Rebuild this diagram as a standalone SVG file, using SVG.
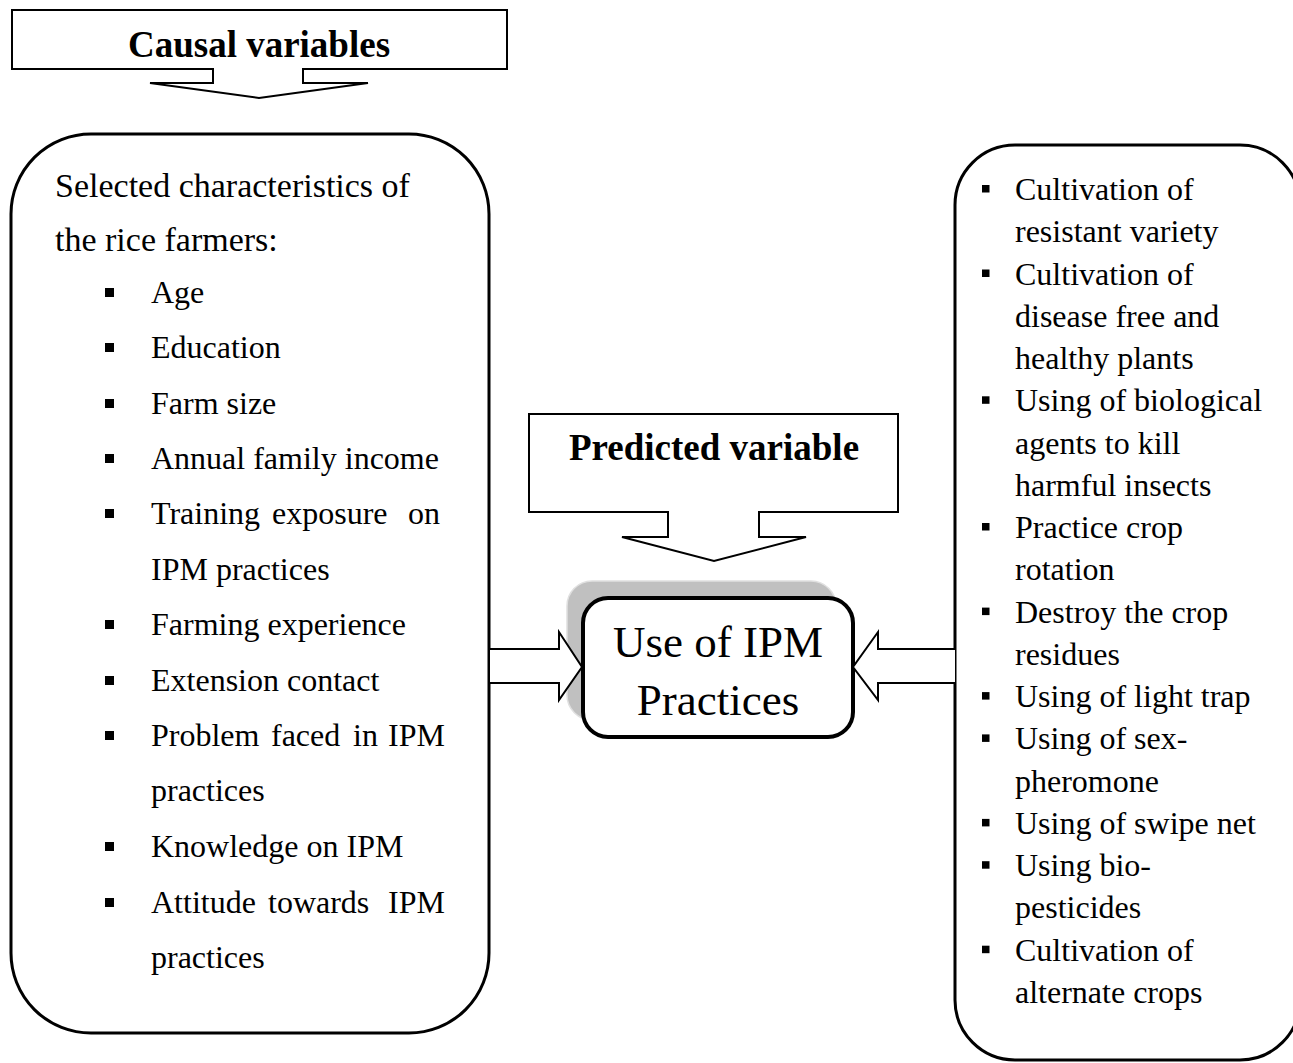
<svg xmlns="http://www.w3.org/2000/svg" width="1293" height="1063" viewBox="0 0 1293 1063">
<style>
text{font-family:"Liberation Serif","Times New Roman",serif;fill:#000}
.b{font-weight:bold;font-size:37px}
.h{font-size:34px}
.t{font-size:32px}
.c{font-size:45px}
.box{fill:#fff;stroke:#000;stroke-width:3}
.call{fill:#fff;stroke:#000;stroke-width:2}
.arr{fill:#fff;stroke:#000;stroke-width:2;stroke-linejoin:miter}
</style>
<rect width="1293" height="1063" fill="#fff"/>
<g id="causal-callout">
<path class="call" d="M12,10 H507 V69 H303 V83 H368 L259,98 L150,83 H213 V69 H12 Z"/>
<text class="b" x="259" y="57" text-anchor="middle">Causal variables</text>
</g>
<g id="predicted-callout">
<path class="call" d="M529,414 H898 V512 H759 V537 H806 L714,561 L622,537 H668 V512 H529 Z"/>
<text class="b" x="714" y="460" text-anchor="middle">Predicted variable</text>
</g>
<g id="causal-box">
<rect class="box" x="11" y="134" width="478" height="899" rx="80" ry="80"/>
<text class="h" x="55" y="197">Selected characteristics of</text>
<text class="h" x="55" y="251">the rice farmers:</text>
<g fill="#000">
<rect x="105" y="288" width="9" height="9"/>
<rect x="105" y="343" width="9" height="9"/>
<rect x="105" y="399" width="9" height="9"/>
<rect x="105" y="454" width="9" height="9"/>
<rect x="105" y="509" width="9" height="9"/>
<rect x="105" y="620" width="9" height="9"/>
<rect x="105" y="676" width="9" height="9"/>
<rect x="105" y="731" width="9" height="9"/>
<rect x="105" y="842" width="9" height="9"/>
<rect x="105" y="898" width="9" height="9"/>
</g>
<text class="t" x="151" y="303">Age</text>
<text class="t" x="151" y="358">Education</text>
<text class="t" x="151" y="414">Farm size</text>
<text class="t" x="151" y="469">Annual family income</text>
<text class="t" y="524"><tspan x="151">Training</tspan><tspan x="272">exposure</tspan><tspan x="408">on</tspan></text>
<text class="t" x="151" y="580">IPM practices</text>
<text class="t" x="151" y="635">Farming experience</text>
<text class="t" x="151" y="691">Extension contact</text>
<text class="t" y="746"><tspan x="151">Problem</tspan><tspan x="271">faced</tspan><tspan x="353">in</tspan><tspan x="388">IPM</tspan></text>
<text class="t" x="151" y="801">practices</text>
<text class="t" x="151" y="857">Knowledge on IPM</text>
<text class="t" y="913"><tspan x="151">Attitude</tspan><tspan x="268">towards</tspan><tspan x="388">IPM</tspan></text>
<text class="t" x="151" y="968">practices</text>
</g>
<g id="practices-box">
<rect class="box" x="955" y="145" width="345" height="915" rx="60" ry="60"/>
<g fill="#000">
<rect x="982" y="185" width="7.5" height="7.5"/>
<rect x="982" y="269.5" width="7.5" height="7.5"/>
<rect x="982" y="396.3" width="7.5" height="7.5"/>
<rect x="982" y="523" width="7.5" height="7.5"/>
<rect x="982" y="607.6" width="7.5" height="7.5"/>
<rect x="982" y="692.1" width="7.5" height="7.5"/>
<rect x="982" y="734.4" width="7.5" height="7.5"/>
<rect x="982" y="818.9" width="7.5" height="7.5"/>
<rect x="982" y="861.2" width="7.5" height="7.5"/>
<rect x="982" y="945.7" width="7.5" height="7.5"/>
</g>
<text class="t" x="1015" y="200">Cultivation of</text>
<text class="t" x="1015" y="242.3">resistant variety</text>
<text class="t" x="1015" y="284.5">Cultivation of</text>
<text class="t" x="1015" y="326.8">disease free and</text>
<text class="t" x="1015" y="369">healthy plants</text>
<text class="t" x="1015" y="411.3">Using of biological</text>
<text class="t" x="1015" y="453.6">agents to kill</text>
<text class="t" x="1015" y="495.8">harmful insects</text>
<text class="t" x="1015" y="538">Practice crop</text>
<text class="t" x="1015" y="580.3">rotation</text>
<text class="t" x="1015" y="622.6">Destroy the crop</text>
<text class="t" x="1015" y="664.9">residues</text>
<text class="t" x="1015" y="707.1">Using of light trap</text>
<text class="t" x="1015" y="749.4">Using of sex-</text>
<text class="t" x="1015" y="791.6">pheromone</text>
<text class="t" x="1015" y="833.9">Using of swipe net</text>
<text class="t" x="1015" y="876.2">Using bio-</text>
<text class="t" x="1015" y="918.4">pesticides</text>
<text class="t" x="1015" y="960.7">Cultivation of</text>
<text class="t" x="1015" y="1003">alternate crops</text>
</g>
<g id="ipm-node">
<rect x="567" y="581" width="269" height="139" rx="25" ry="25" fill="#c0c0c0" stroke="#e0e0e0" stroke-width="1.5"/>
<rect x="583" y="598" width="270" height="139" rx="25" ry="25" fill="#fff" stroke="#000" stroke-width="4"/>
<text class="c" x="718" y="657" text-anchor="middle">Use of IPM</text>
<text class="c" x="718" y="715" text-anchor="middle">Practices</text>
</g>
<g id="connectors">
<path class="arr" d="M490,649 H559 V632 L582,667 L559,700 V683 H490"/>
<path class="arr" d="M955,649 H878 V632 L853,667 L878,700 V683 H955"/>
</g>
</svg>
